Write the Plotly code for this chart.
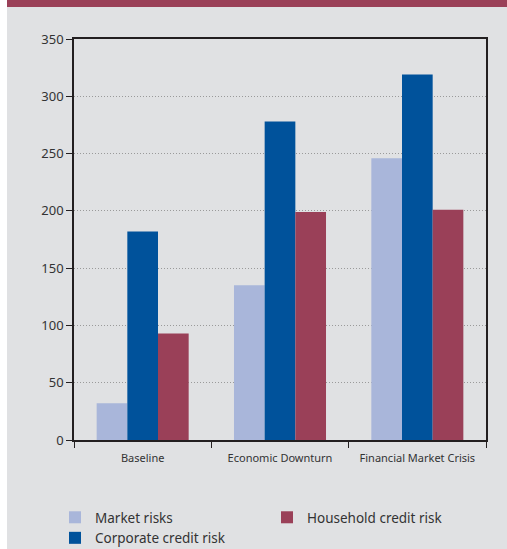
import plotly.graph_objects as go

# Scenario categories and stress-test results per risk type
scenarios = ["Baseline", "Economic Downturn", "Financial Market Crisis"]
market_risks = [32, 135, 246]
corporate_credit_risk = [182, 278, 319]
household_credit_risk = [93, 199, 201]

y_ticks = [0, 50, 100, 150, 200, 250, 300, 350]

W, H = 507, 549
ML, MR, MT, MB = 74, 21, 39, 109
PW = W - ML - MR
PH = H - MT - MB

C_MARKET = "#A9B6DA"
C_CORP = "#00529B"
C_HOUSE = "#9A4058"
BG = "#E0E1E3"


def px_x(p):
    return (p - ML) / PW


def px_y(p):
    return (H - MB - p) / PH


fig = go.Figure()
fig.add_trace(go.Bar(name="Market risks", x=scenarios, y=market_risks,
                     marker=dict(color=C_MARKET, line=dict(width=0)), legend="legend"))
fig.add_trace(go.Bar(name="Corporate credit risk", x=scenarios, y=corporate_credit_risk,
                     marker=dict(color=C_CORP, line=dict(width=0)), legend="legend"))
fig.add_trace(go.Bar(name="Household credit risk", x=scenarios, y=household_credit_risk,
                     marker=dict(color=C_HOUSE, line=dict(width=0)), legend="legend2"))

axis_line = dict(showline=True, linecolor="#231F20", linewidth=1.5, mirror=True)

fig.update_layout(
    width=W, height=H,
    margin=dict(l=ML, r=MR, t=MT, b=MB, pad=0, autoexpand=False),
    paper_bgcolor=BG, plot_bgcolor=BG,
    barmode="group", bargap=0.33, bargroupgap=0,
    font=dict(family="Noto Sans", color="#333333"),
    xaxis=dict(**axis_line, ticks="outside", tickson="boundaries", ticklen=6,
               tickcolor="#231F20", tickfont=dict(size=11, color="#333333"),
               ticklabelstandoff=7, showgrid=False),
    yaxis=dict(**axis_line, range=[0, 350], tickvals=y_ticks, ticks="outside",
               ticklen=6, tickcolor="#231F20", tickfont=dict(size=13, color="#333333"),
               showgrid=True, gridcolor="#9A9A9A", griddash="1px,2px", gridwidth=1,
               zeroline=False),
    legend=dict(orientation="v", x=px_x(55), y=px_y(502), xanchor="left", yanchor="top",
                bgcolor="rgba(0,0,0,0)", font=dict(size=13.5, color="#333333"),
                tracegroupgap=0, itemclick=False),
    legend2=dict(orientation="v", x=px_x(267), y=px_y(502), xanchor="left", yanchor="top",
                 bgcolor="rgba(0,0,0,0)", font=dict(size=13.5, color="#333333"),
                 itemclick=False),
    shapes=[
        # white strip along the left edge
        dict(type="rect", xref="paper", yref="paper", layer="below",
             x0=px_x(0), x1=px_x(7), y0=px_y(H), y1=px_y(0),
             fillcolor="white", line=dict(width=0)),
        # maroon header band
        dict(type="rect", xref="paper", yref="paper", layer="below",
             x0=px_x(7), x1=px_x(W), y0=px_y(7), y1=px_y(0),
             fillcolor=C_HOUSE, line=dict(width=0)),
    ],
)

fig.write_html("out.html")
